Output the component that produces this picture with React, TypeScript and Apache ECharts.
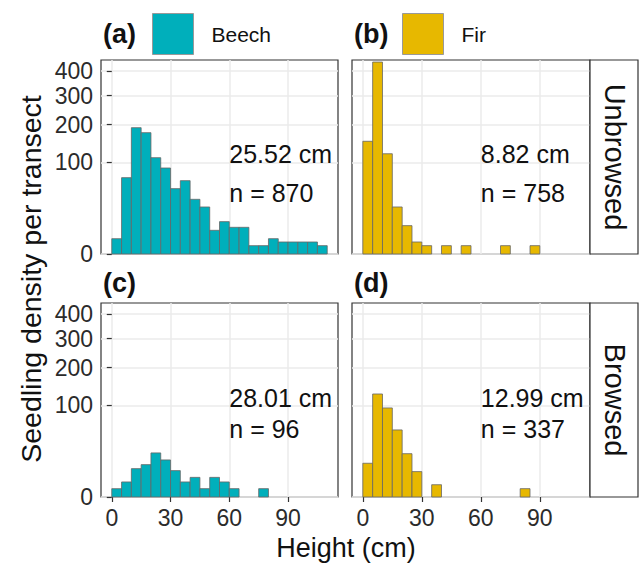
import React, { useEffect, useRef } from "react";
import * as echarts from "echarts";

// ---- data ----
const binWidth = 5;
const binStarts = [0, 5, 10, 15, 20, 25, 30, 35, 40, 45, 50, 55, 60, 65, 70, 75, 80, 85, 90, 95, 100, 105];

const beechUnbrowsed = [2.8, 69.6, 190.6, 175.8, 110.8, 88.3, 51, 64.2, 35.7, 26.4, 6.7, 12.5, 8.5, 8.5, 0.83, 0.83, 2.8, 1.72, 1.72, 1.72, 1.72, 0.83];
const firUnbrowsed = [151.7, 440, 120, 26.4, 9.6, 1.72, 0.83, 0, 0.83, 0, 0.83, 0, 0, 0, 0.83, 0, 0, 0.83, 0, 0, 0, 0];
const beechBrowsed = [0.83, 2.7, 9.6, 12.5, 23.2, 16.4, 8.3, 2.7, 4.6, 0.83, 4.6, 2.7, 0.83, 0, 0, 0.83, 0, 0, 0, 0, 0, 0];
const firBrowsed = [13.6, 126.7, 94.7, 53.7, 22.4, 7.7, 0, 1.8, 0, 0, 0, 0, 0, 0, 0, 0, 0.83, 0, 0, 0, 0, 0];

const panelData = [beechUnbrowsed, firUnbrowsed, beechBrowsed, firBrowsed];
const panelSpecies = ["Beech", "Fir", "Beech", "Fir"];
const panelTags = ["(a)", "(b)", "(c)", "(d)"];
const meanLabels = ["25.52 cm", "8.82 cm", "28.01 cm", "12.99 cm"];
const nLabels = ["n = 870", "n = 758", "n = 96", "n = 337"];
const rowLabels = ["Unbrowsed", "Browsed"];
const species = ["Beech", "Fir"];

const xTicks = [0, 30, 60, 90];
const yTicks = [0, 100, 200, 300, 400];

const colors: Record<string, string> = { Beech: "#00AFBB", Fir: "#E7B800" };

const FONT = "'Liberation Sans', Arial, Helvetica, sans-serif";

// layout
const grids = [
  { left: 101, top: 60, width: 237, height: 194 },
  { left: 352, top: 60, width: 238, height: 194 },
  { left: 101, top: 303, width: 237, height: 194 },
  { left: 352, top: 303, width: 238, height: 194 },
];
const yMaxSqrt = 21.2;
// annotation y positions (in count units) per panel
const annotY = [
  [119, 44.5],
  [119, 44.5],
  [118, 54.5],
  [118, 54.5],
];

export default function App() {
  const ref = useRef<HTMLDivElement>(null);
  useEffect(() => {
    if (!ref.current) return;
    const chart = echarts.init(ref.current, undefined, { renderer: "svg" });
    const ySqrtTicks = yTicks.map((v) => Math.sqrt(v));

    const xAxis = grids.map((_, i) => ({
      type: "value",
      gridIndex: i,
      min: -5.5,
      max: 115.5,
      axisLine: { show: false },
      axisTick: {
        show: i >= 2,
        customValues: xTicks,
        length: 5,
        lineStyle: { color: "#333", width: 1.2 },
      },
      axisLabel: {
        show: i >= 2,
        customValues: xTicks,
        fontSize: 23,
        color: "#2b2b2b",
        fontFamily: FONT,
        margin: 9,
      },
      splitLine: { show: true, lineStyle: { color: "#EBEBEB", width: 1.5 } },
    }));

    const yAxis = grids.map((_, i) => ({
      type: "value",
      gridIndex: i,
      min: 0,
      max: yMaxSqrt,
      axisLine: { show: false },
      axisTick: {
        show: i % 2 === 0,
        customValues: ySqrtTicks,
        length: 5,
        lineStyle: { color: "#333", width: 1.2 },
      },
      axisLabel: {
        show: i % 2 === 0,
        customValues: ySqrtTicks,
        formatter: (v: number) => String(Math.round(v * v)),
        fontSize: 23,
        color: "#2b2b2b",
        fontFamily: FONT,
        margin: 8,
      },
      splitLine: { show: true, lineStyle: { color: "#EBEBEB", width: 1.5 } },
    }));

    const barSeries = panelData.map((counts, i) => ({
      type: "custom",
      name: panelSpecies[i],
      xAxisIndex: i,
      yAxisIndex: i,
      itemStyle: { color: colors[panelSpecies[i]], borderColor: "#666", borderWidth: 0.8 },
      encode: { x: [0, 1], y: 2 },
      data: binStarts.map((b, k) => [b, b + binWidth, Math.sqrt(counts[k])]),
      renderItem: (params: any, api: any) => {
        const x0 = api.value(0);
        const x1 = api.value(1);
        const s = api.value(2);
        if (!s) return null;
        const p0 = api.coord([x0, s]);
        const p1 = api.coord([x1, 0]);
        return {
          type: "rect",
          shape: { x: p0[0], y: p0[1], width: p1[0] - p0[0], height: p1[1] - p0[1] },
          style: { fill: colors[panelSpecies[i]], stroke: "#666", lineWidth: 0.8 },
        };
      },
      z: 2,
    }));

    const annotSeries = panelData.map((_, i) => ({
      type: "custom",
      xAxisIndex: i,
      yAxisIndex: i,
      silent: true,
      data: [
        [60, Math.sqrt(annotY[i][0])],
        [60, Math.sqrt(annotY[i][1])],
      ],
      renderItem: (params: any, api: any) => {
        const p = api.coord([api.value(0), api.value(1)]);
        const text = params.dataIndex === 0 ? meanLabels[i] : nLabels[i];
        return {
          type: "text",
          x: p[0],
          y: p[1],
          style: {
            text,
            fill: "#111",
            fontSize: 25,
            fontFamily: FONT,
            textAlign: "left",
            textVerticalAlign: "middle",
          },
        };
      },
      z: 5,
    }));

    const graphics: any[] = [];
    // facet tags
    panelTags.forEach((t, i) => {
      graphics.push({
        type: "text",
        x: grids[i].left + 2,
        y: i < 2 ? 34 : 283,
        style: {
          text: t,
          fontSize: 27,
          fontWeight: "bold",
          fontFamily: FONT,
          fill: "#111",
          textVerticalAlign: "middle",
        },
      });
    });
    // right strips
    rowLabels.forEach((lab, r) => {
      const g = grids[r * 2 + 1];
      const x = g.left + g.width;
      graphics.push({
        type: "rect",
        shape: { x, y: g.top, width: 48, height: g.height },
        style: { fill: "#fff", stroke: "#333", lineWidth: 1.2 },
        z: 10,
      });
      graphics.push({
        type: "text",
        x: x + 25,
        y: g.top + g.height / 2,
        rotation: -Math.PI / 2,
        style: {
          text: lab,
          fontSize: 29,
          fontFamily: FONT,
          fill: "#111",
          textAlign: "center",
          textVerticalAlign: "middle",
        },
        z: 11,
      });
    });
    // axis titles
    graphics.push({
      type: "text",
      x: 31,
      y: 279,
      rotation: Math.PI / 2,
      style: {
        text: "Seedling density per transect",
        fontSize: 28.5,
        fontFamily: FONT,
        fill: "#111",
        textAlign: "center",
        textVerticalAlign: "middle",
      },
    });
    graphics.push({
      type: "text",
      x: 346,
      y: 548,
      style: {
        text: "Height (cm)",
        fontSize: 27,
        fontFamily: FONT,
        fill: "#111",
        textAlign: "center",
        textVerticalAlign: "middle",
      },
    });

    const legendLefts = [152, 402];

    chart.setOption({
      animation: false,
      backgroundColor: "#fff",
      grid: grids.map((g) => ({
        ...g,
        show: true,
        backgroundColor: "#fff",
        borderColor: "#333",
        borderWidth: 1.2,
      })),
      xAxis,
      yAxis,
      legend: species.map((s, k) => ({
        data: [{ name: s, icon: "rect" }],
        left: legendLefts[k],
        top: 13,
        padding: 0,
        itemWidth: 41,
        itemHeight: 41,
        itemStyle: { borderColor: "#999", borderWidth: 1 },
        textStyle: { fontSize: 21, fontFamily: FONT, color: "#111", padding: [0, 0, 0, 13] },
        selectedMode: false,
      })),
      series: [...barSeries, ...annotSeries],
      graphic: graphics,
    });
    return () => chart.dispose();
  }, []);
  return (
    <div
      ref={ref}
      style={{ position: "absolute", left: 0, top: 0, width: 639, height: 564 }}
    />
  );
}
